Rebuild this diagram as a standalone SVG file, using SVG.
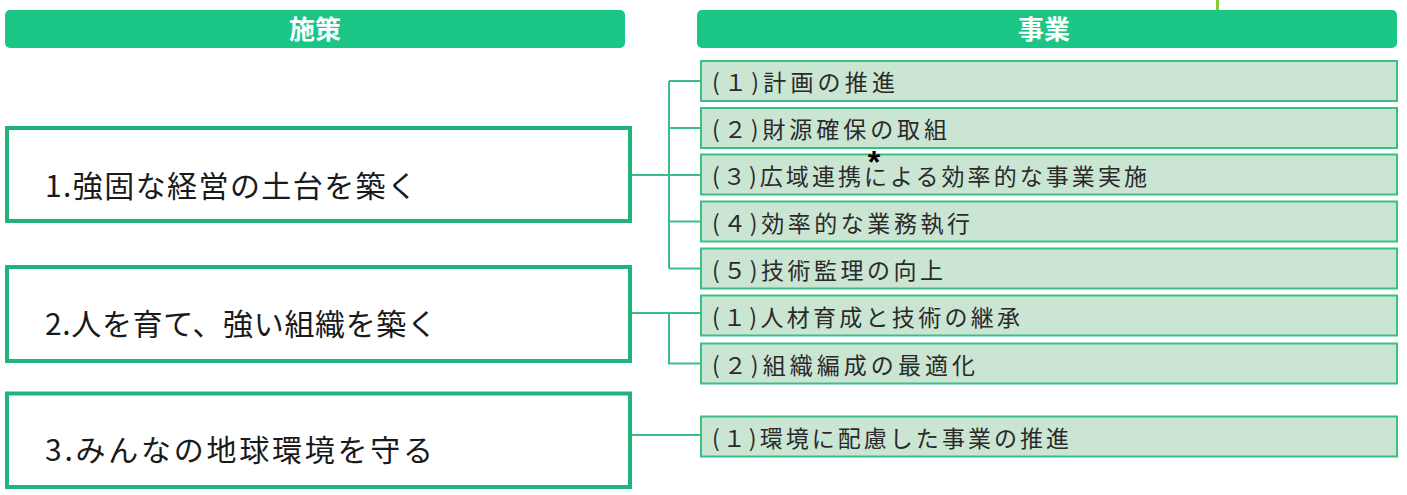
<svg xmlns="http://www.w3.org/2000/svg" width="1407" height="495" viewBox="0 0 1407 495">
<style>
.hdr{fill:#1bc586;}
.hdrt{font-family:"Noto Sans CJK JP","Noto Sans",sans-serif;font-size:26px;font-weight:bold;fill:#ffffff;text-anchor:middle;}
.pol{fill:#ffffff;stroke:#22b37a;stroke-width:4;}
.polt{font-family:"Noto Sans CJK JP","Noto Sans",sans-serif;font-size:30px;fill:#1a1a1a;}
.biz{fill:#cbe5d3;stroke:#3bbf88;stroke-width:2;}
.bizt{font-family:"Noto Sans CJK JP","Noto Sans",sans-serif;font-size:23px;fill:#2a2a2a;}
.con{fill:none;stroke:#3bbf88;stroke-width:2;}
</style>
<rect width="1407" height="495" fill="#ffffff"/>
<line x1="1217.5" y1="0" x2="1217.5" y2="10" stroke="#8cc63e" stroke-width="3"/>
<g id="header-policy">
<rect class="hdr" x="5" y="10" width="620" height="38" rx="5"/>
<text class="hdrt" x="315" y="38.5">施策</text>
</g>
<g id="header-business">
<rect class="hdr" x="697" y="10" width="700" height="38" rx="5"/>
<text class="hdrt" x="1044" y="38.5">事業</text>
</g>
<g id="connectors">
<path class="con" d="M632 175 H669 M669 81 V268.5 M669 81 H701 M669 128 H701 M669 175 H701 M669 221.5 H701 M669 268.5 H701"/>
<path class="con" d="M632 313 H701 M669 313 V363.5 H701"/>
<path class="con" d="M632 435 H701"/>
</g>
<g id="policy-1">
<rect class="pol" x="7" y="128" width="623" height="93"/>
<text class="polt" x="45" y="197" textLength="372" lengthAdjust="spacing">1.強固な経営の土台を築く</text>
</g>
<g id="policy-2">
<rect class="pol" x="7" y="267" width="623" height="94"/>
<text class="polt" x="45" y="335" textLength="392" lengthAdjust="spacing">2.人を育て、強い組織を築く</text>
</g>
<g id="policy-3">
<rect class="pol" x="7" y="393.5" width="623" height="93.5"/>
<text class="polt" x="45" y="461" textLength="388" lengthAdjust="spacing">3.みんなの地球環境を守る</text>
</g>
<g id="biz-1-1">
<rect class="biz" x="701" y="61" width="696" height="40"/>
<text class="bizt" x="712" y="91" textLength="183" lengthAdjust="spacing">(１)計画の推進</text>
</g>
<g id="biz-1-2">
<rect class="biz" x="701" y="108" width="696" height="40"/>
<text class="bizt" x="712" y="138" textLength="235" lengthAdjust="spacing">(２)財源確保の取組</text>
</g>
<g id="biz-1-3">
<rect class="biz" x="701" y="154.5" width="696" height="40"/>
<text class="bizt" x="712" y="184.5" textLength="435" lengthAdjust="spacing">(３)広域連携による効率的な事業実施</text>
</g>
<g id="biz-1-4">
<rect class="biz" x="701" y="201.5" width="696" height="40"/>
<text class="bizt" x="712" y="231.5" textLength="258" lengthAdjust="spacing">(４)効率的な業務執行</text>
</g>
<g id="biz-1-5">
<rect class="biz" x="701" y="248.5" width="696" height="40"/>
<text class="bizt" x="712" y="278.5" textLength="231" lengthAdjust="spacing">(５)技術監理の向上</text>
</g>
<g id="biz-2-1">
<rect class="biz" x="701" y="295.5" width="696" height="40"/>
<text class="bizt" x="712" y="325.5" textLength="308" lengthAdjust="spacing">(１)人材育成と技術の継承</text>
</g>
<g id="biz-2-2">
<rect class="biz" x="701" y="343.5" width="696" height="40"/>
<text class="bizt" x="712" y="373.5" textLength="263" lengthAdjust="spacing">(２)組織編成の最適化</text>
</g>
<g id="biz-3-1">
<rect class="biz" x="701" y="416.5" width="696" height="40"/>
<text class="bizt" x="712" y="446.5" textLength="357" lengthAdjust="spacing">(１)環境に配慮した事業の推進</text>
</g>
<text x="874" y="173" font-family="Liberation Sans, sans-serif" font-size="32" font-weight="bold" fill="#000000" text-anchor="middle">*</text>
</svg>
